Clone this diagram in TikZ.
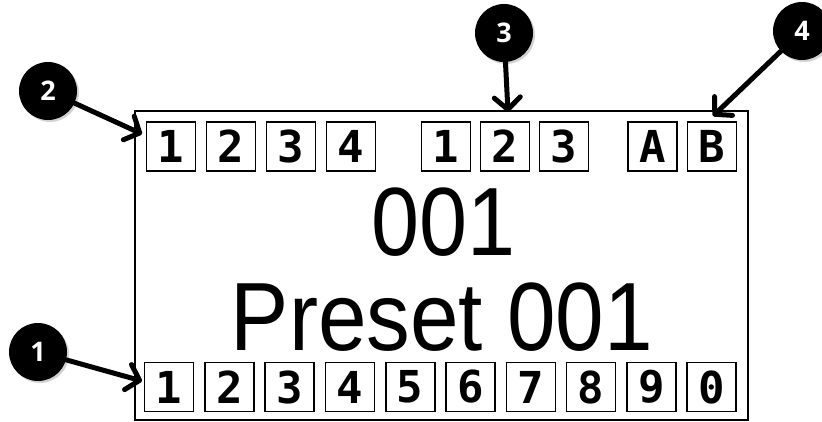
\documentclass[tikz,border=0pt]{standalone}
\usepackage{fontspec}
\setmainfont{Liberation Sans}
\newfontfamily\lcdfont{DejaVu Sans Mono}
\newfontfamily\calloutfont{Open Sans}
\usetikzlibrary{arrows.meta, positioning, shadows}

\begin{document}
\begin{tikzpicture}[x=1pt, y=-1pt,
    cell/.style={draw, line width=1.6pt, minimum size=49pt, inner sep=0pt,
                 font=\lcdfont\bfseries\fontsize{44}{44}\selectfont},
    callout/.style={circle, fill=black, minimum size=58pt, inner sep=0pt,
                    text=white, font=\calloutfont\bfseries\fontsize{27}{27}\selectfont,
                    drop shadow={shadow xshift=2pt, shadow yshift=-2pt, opacity=0.35}},
    pointer/.style={line width=5pt, line cap=round,
                    -{Straight Barb[length=12pt, width=26pt, round]}},
    bigtext/.style={anchor=base, inner sep=0pt, font=\fontsize{97}{97}\selectfont}
  ]
  \useasboundingbox (0,0) rectangle (822,422);

  % display frame
  \node[draw, line width=2pt, minimum width=613pt, minimum height=309pt, inner sep=0pt]
    (display) at (441.5,265.5) {};

  % top row of indicators
  \foreach \lbl [count=\i from 0] in {1,2,3,4}
    \node[cell] (t\lbl) at (171+60*\i,146.5) {\lbl};
  \foreach \lbl [count=\i from 0] in {1,2,3}
    \node[cell] (p\lbl) at (446+59*\i,146.5) {\lbl};
  \node[cell] (bankA) at (652.5,146.5) {A};
  \node[cell] (bankB) at (712,146.5) {B};

  % bottom row of indicators
  \foreach \lbl [count=\i from 0] in {1,2,3,4,5,6,7,8,9,0}
    \node[cell] (b\i) at (169+60.3*\i,387) {\lbl};

  % preset number and name
  \node[bigtext, xscale=0.89] (num)  at (443.5,255) {001};
  \node[bigtext, xscale=0.9]  (name) at (442,350) {Preset 001};

  % numbered callouts
  \node[callout] (c1) at (38,352) {1};
  \node[callout] (c2) at (48,91)  {2};
  \node[callout] (c3) at (504,33) {3};
  \node[callout] (c4) at (802,31) {4};

  \coordinate (tip1) at (142,381);
  \coordinate (tip2) at (142,134);
  \coordinate (tip3) at (508,112);
  \coordinate (tip4) at (713,116);

  \draw[pointer] (c1) -- (tip1);
  \draw[pointer] (c2) -- (tip2);
  \draw[pointer] (c3) -- (tip3);
  \draw[pointer] (c4) -- (tip4);
\end{tikzpicture}
\end{document}
